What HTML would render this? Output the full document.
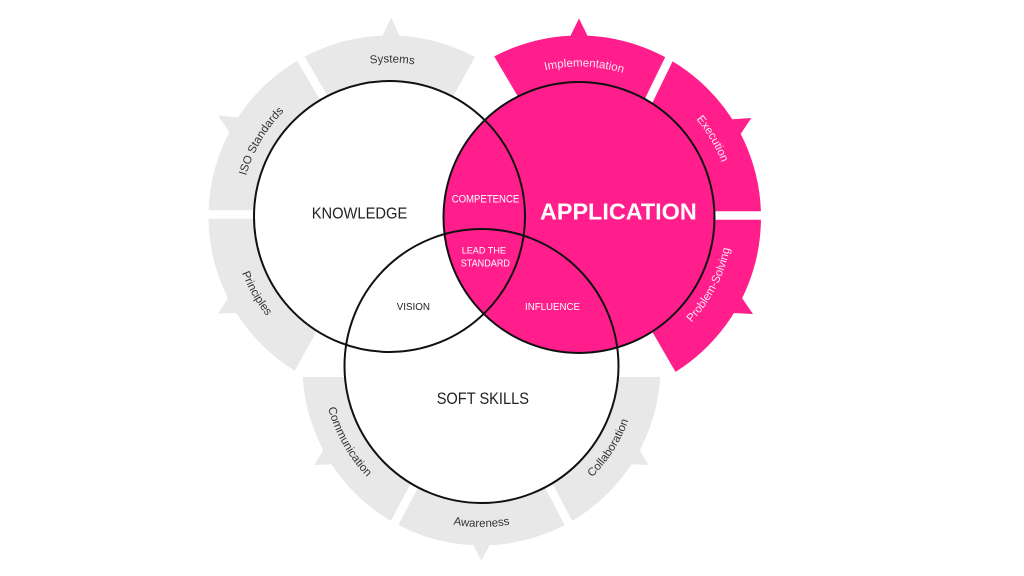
<!DOCTYPE html>
<html>
<head>
<meta charset="utf-8">
<style>
  html,body{margin:0;padding:0;background:#fff;}
  svg{display:block;}
  text{font-family:"Liberation Sans",sans-serif;}
</style>
</head>
<body>
<svg width="1024" height="576" viewBox="0 0 1024 576" xmlns="http://www.w3.org/2000/svg">
  <defs>
    <clipPath id="ck"><polygon points="520,-25 387.2,216.5 380.8,216.5 258,436.5 100,436.5 100,-25"/></clipPath>
    <clipPath id="ca"><polygon points="448,-22 589.2,217.5 586.2,217.5 716,442 900,442 900,-22"/></clipPath>
    <clipPath id="cs"><rect x="250" y="377" width="500" height="200"/></clipPath>

    <path id="pSys" d="M282.5,105.7 A154,154 0 0 1 500.3,109.5"/>
    <path id="pIso" d="M245.3,254.1 A149,149 0 0 1 351.9,72.3"/>
    <path id="pPri" d="M236.9,175.6 A158,158 0 0 0 348.6,369.1"/>
    <path id="pImp" d="M476,107.1 A151,151 0 0 1 689.4,114.5"/>
    <path id="pExe" d="M617.3,69.4 A153,153 0 0 1 727.1,255.8"/>
    <path id="pPro" d="M625.8,364.2 A154,154 0 0 0 725.7,170.7"/>
    <path id="pCom" d="M328.2,324.3 A159,159 0 0 0 439.3,519.8"/>
    <path id="pAwa" d="M368,480 A160.5,160.5 0 0 0 595,480"/>
    <path id="pCol" d="M515.1,519.4 A156.5,156.5 0 0 0 634.4,332.9"/>
  </defs>

  <rect width="1024" height="576" fill="#fff"/>

  <!-- Knowledge ring (gray) -->
  <circle cx="389.5" cy="216.5" r="153" fill="none" stroke="#e8e8e8" stroke-width="56" clip-path="url(#ck)"/>
  <polygon points="381.1,38.7 401,38.9 391.2,17.5" fill="#e8e8e8"/>
  <polygon points="231.3,134.9 241.4,117.7 218,115.5" fill="#e8e8e8"/>
  <polygon points="239.7,312.7 229.9,295.4 218,313.5" fill="#e8e8e8"/>

  <!-- Application ring (pink) -->
  <circle cx="579" cy="217.5" r="153.5" fill="none" stroke="#ff1e8c" stroke-width="57" clip-path="url(#ca)"/>
  <polygon points="569,38.8 589,38.8 579,18.5" fill="#ff1e8c"/>
  <polygon points="728.8,119.5 738.8,136.8 751.3,118" fill="#ff1e8c"/>
  <polygon points="740.2,295.4 730.5,312.9 753,314" fill="#ff1e8c"/>

  <!-- Soft skills ring (gray) -->
  <circle cx="481.5" cy="366.5" r="152" fill="none" stroke="#e8e8e8" stroke-width="54" clip-path="url(#cs)"/>
  <polygon points="335.1,464.1 325.1,447.2 314.3,465" fill="#e8e8e8"/>
  <polygon points="471.7,542.2 491.3,542.2 481.5,560.5" fill="#e8e8e8"/>
  <polygon points="637.9,447.2 627.9,464.1 648.7,465" fill="#e8e8e8"/>

  <!-- gaps -->
  <g stroke="#fff" stroke-width="8.5" fill="none">
    <line x1="291" y1="41.7" x2="332" y2="112"/>
    <line x1="195" y1="214.5" x2="270" y2="214.5"/>
    <line x1="677.8" y1="41" x2="641.2" y2="116"/>
    <line x1="690" y1="215.5" x2="780" y2="215.5"/>
    <line x1="421.8" y1="471.3" x2="383.2" y2="544.7"/>
    <line x1="541.2" y1="471.3" x2="579.8" y2="544.7"/>
  </g>

  <!-- circles fill -->
  <circle cx="389.5" cy="216.5" r="135.5" fill="#fff"/>
  <circle cx="481.5" cy="366" r="137" fill="#fff"/>
  <circle cx="579" cy="217.5" r="135.5" fill="#ff1e8c"/>

  <!-- circle strokes -->
  <g fill="none" stroke="#111" stroke-width="2">
    <circle cx="389.5" cy="216.5" r="135.5"/>
    <circle cx="481.5" cy="366" r="137"/>
    <circle cx="579" cy="217.5" r="135.5"/>
  </g>

  <!-- ring labels -->
  <g font-size="11.5" fill="#333">
    <text><textPath href="#pSys" startOffset="50%" text-anchor="middle">Systems</textPath></text>
    <text><textPath href="#pIso" startOffset="50%" text-anchor="middle">ISO Standards</textPath></text>
    <text><textPath href="#pPri" startOffset="50%" text-anchor="middle">Principles</textPath></text>
    <text><textPath href="#pCom" startOffset="50%" text-anchor="middle">Communication</textPath></text>
    <text><textPath href="#pAwa" startOffset="50%" text-anchor="middle">Awareness</textPath></text>
    <text><textPath href="#pCol" startOffset="50%" text-anchor="middle">Collaboration</textPath></text>
  </g>
  <g font-size="11.5" fill="#ffe6f2">
    <text><textPath href="#pImp" startOffset="50%" text-anchor="middle">Implementation</textPath></text>
    <text><textPath href="#pExe" startOffset="50%" text-anchor="middle">Execution</textPath></text>
    <text><textPath href="#pPro" startOffset="50%" text-anchor="middle">Problem-Solving</textPath></text>
  </g>

  <!-- main labels -->
  <text x="311.7" y="218.3" font-size="16" fill="#222" textLength="95.6" lengthAdjust="spacingAndGlyphs">KNOWLEDGE</text>
  <text x="540" y="219.3" font-size="23" font-weight="bold" fill="#fff" textLength="156.7" lengthAdjust="spacingAndGlyphs">APPLICATION</text>
  <text x="451.7" y="202.3" font-size="11.4" fill="#fff" textLength="67.6" lengthAdjust="spacingAndGlyphs">COMPETENCE</text>
  <text x="461.7" y="253.3" font-size="9.6" fill="#fff" textLength="44.3" lengthAdjust="spacingAndGlyphs">LEAD THE</text>
  <text x="460.7" y="266.7" font-size="9.8" fill="#fff" textLength="49.3" lengthAdjust="spacingAndGlyphs">STANDARD</text>
  <text x="525" y="310" font-size="10" fill="#fff" textLength="55" lengthAdjust="spacingAndGlyphs">INFLUENCE</text>
  <text x="396.7" y="310" font-size="10" fill="#222" textLength="33.3" lengthAdjust="spacingAndGlyphs">VISION</text>
  <text x="436.7" y="404" font-size="16.8" fill="#222" textLength="92.3" lengthAdjust="spacingAndGlyphs">SOFT SKILLS</text>
</svg>
</body>
</html>
